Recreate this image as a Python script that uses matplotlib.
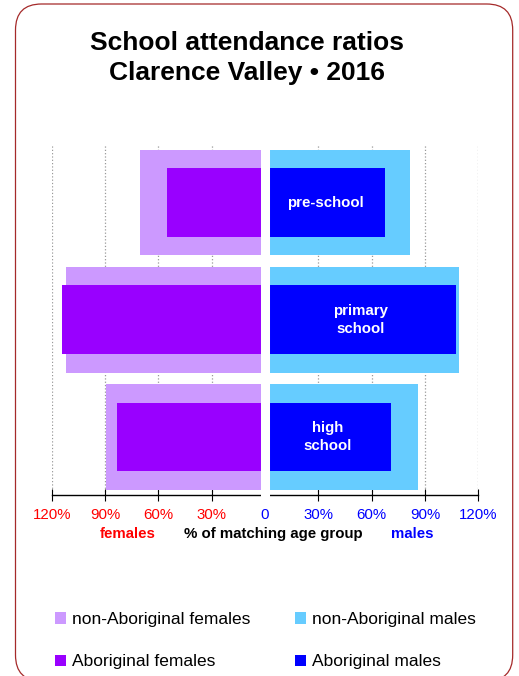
import numpy as np
import matplotlib.pyplot as plt
from matplotlib.patches import FancyBboxPatch
from matplotlib.transforms import IdentityTransform

# school levels, top to bottom
levels = ["pre-school", "primary\nschool", "high\nschool"]

# % of matching age group attending
non_abor_females = [70.2, 112.0, 89.3]
abor_females = [55.1, 114.0, 83.1]
non_abor_males = [81.6, 109.4, 85.9]
abor_males = [67.5, 107.5, 70.9]

tick_vals = [-120, -90, -60, -30, 0, 30, 60, 90, 120]
tick_text = ["120%", "90%", "60%", "30%", "0", "30%", "60%", "90%", "120%"]

FONT = ["Liberation Sans", "Arial", "DejaVu Sans"]

W, H = 519, 676
fig = plt.figure(figsize=(W / 100, H / 100), dpi=100)

def fx(px):
    return px / W

def fy(py):
    return 1 - py / H

# axes box in pixels: x 51.7..478.3, y 144..495.3
ax = fig.add_axes([fx(51.7), fy(495.3), fx(478.3) - fx(51.7), fy(144) - fy(495.3)])

y = np.arange(len(levels))
ax.barh(y, -np.array(non_abor_females), height=0.903, color="#cc99ff", zorder=2,
        label="non-Aboriginal females")
ax.barh(y, -np.array(abor_females), height=0.584, color="#9900ff", zorder=3,
        label="Aboriginal females")
ax.barh(y, non_abor_males, height=0.903, color="#66ccff", zorder=2,
        label="non-Aboriginal males")
ax.barh(y, abor_males, height=0.584, color="#0000ff", zorder=3,
        label="Aboriginal males")

# white gap separating the two halves
ax.axvline(0, ymin=-0.004, ymax=1, color="white", lw=6.5, zorder=4, clip_on=False)

# level names inside the Aboriginal male bars
for yi, name, v in zip(y, levels, abor_males):
    ax.text(v / 2, yi, name, color="white", ha="center", va="center",
            fontsize=10.8, fontweight="bold", family=FONT, linespacing=1.35, zorder=5)

ax.set_xlim(-120, 120)
ax.set_ylim(2.5, -0.5)
ax.set_yticks([])
for s in ["top", "right", "left"]:
    ax.spines[s].set_visible(False)
ax.spines["bottom"].set_linewidth(1.0)

ax.set_xticks(tick_vals)
ax.set_xticklabels(tick_text)
ax.tick_params(axis="x", direction="inout", length=8, width=0.8, pad=5, labelsize=10.8)
for lab, v in zip(ax.get_xticklabels(), tick_vals):
    lab.set_family(FONT)
    lab.set_color("#ff0000" if v < 0 else "#0000ff")

ax.grid(axis="x", linestyle=":", color="#999999", lw=0.9, zorder=0)
ax.set_axisbelow(True)

# axis captions
fig.text(fx(128), fy(534), "females", color="#ff0000", fontsize=10.8, fontweight="bold",
         family=FONT, ha="center", va="center")
fig.text(fx(273), fy(534), "% of matching age group", color="black", fontsize=10.8,
         fontweight="bold", family=FONT, ha="center", va="center")
fig.text(fx(412), fy(534), "males", color="#0000ff", fontsize=10.8, fontweight="bold",
         family=FONT, ha="center", va="center")

# title
fig.text(fx(247), fy(58), "School attendance ratios\nClarence Valley \u2022 2016",
         fontsize=19, fontweight="bold", family=FONT, ha="center", va="center",
         linespacing=1.27)

# legend
handles, labels = ax.get_legend_handles_labels()
fig.legend(handles, labels, loc="upper left", bbox_to_anchor=(fx(55), fy(612)), ncol=2,
           frameon=False, prop={"family": FONT, "size": 12.5},
           handlelength=0.62, handleheight=0.62, handletextpad=0.35,
           labelspacing=1.58, columnspacing=2.6, borderaxespad=0, borderpad=0)

# rounded frame around the whole chart (pixel coordinates)
frame = FancyBboxPatch((15.5, -5), 497.2, 672 + 5, boxstyle="round,pad=0,rounding_size=26",
                       transform=IdentityTransform(), facecolor="none",
                       edgecolor="#a52a2a", lw=0.9)
fig.add_artist(frame)

fig.savefig("out.png", dpi=100)
